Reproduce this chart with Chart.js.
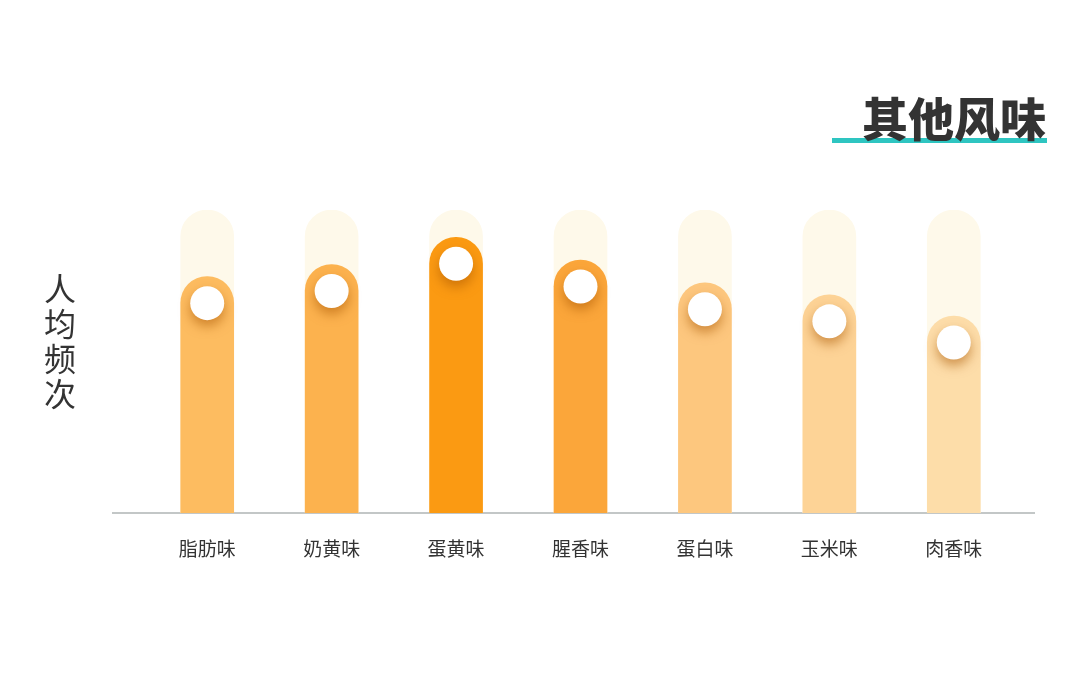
<!DOCTYPE html>
<html>
<head>
<meta charset="utf-8">
<script src="https://cdn.jsdelivr.net/npm/chart.js@4/dist/chart.umd.min.js"></script>
<style>
    html, body { margin: 0; padding: 0; background: #fff; }
    #wrap { position: relative; width: 1080px; height: 686px; overflow: hidden; }
    #chart { position: absolute; left: 0; top: 0; }
    .title {
        position: absolute; right: 34px; top: 88px;
        font-family: "Noto Sans CJK SC", sans-serif; font-weight: 900;
        font-size: 46px; line-height: 56px; color: #333; letter-spacing: 0px;
        z-index: 2;
    }
    .title-line {
        position: absolute; left: 832px; top: 138px; width: 215px; height: 5px;
        background: #2ec5c1; z-index: 1;
    }
    .ylabel {
        position: absolute; left: 43px; top: 270px; width: 34px;
        font-family: "Noto Sans CJK SC", sans-serif; font-size: 32px;
        line-height: 35px; color: #333; text-align: center;
    }
</style>
</head>
<body>
<div id="wrap">
    <canvas id="chart" width="1080" height="686"></canvas>
    <div class="title-line"></div>
    <div class="title">其他风味</div>
    <div class="ylabel">人<br>均<br>频<br>次</div>
</div>
<script>
// 数据
const categories = ['脂肪味', '奶黄味', '蛋黄味', '腥香味', '蛋白味', '玉米味', '肉香味'];
const frequency = [7.8, 8.2, 9.1, 8.35, 7.6, 7.2, 6.5];
const maxValue = [10, 10, 10, 10, 10, 10, 10];
const barColors = ['#fdbc60', '#fcb24e', '#fb9a12', '#fba63a', '#fdc77e', '#fdd396', '#fddda9'];

// 圆点 + 底线
const decoPlugin = {
    id: 'deco',
    beforeDatasetsDraw(chart) {
        const { ctx, chartArea } = chart;
        ctx.save();
        ctx.strokeStyle = '#c3c7c7';
        ctx.lineWidth = 2;
        ctx.beginPath();
        ctx.moveTo(chartArea.left - 33, chartArea.bottom);
        ctx.lineTo(chartArea.right + 19, chartArea.bottom);
        ctx.stroke();
        ctx.restore();
    },
    afterDatasetsDraw(chart) {
        const { ctx } = chart;
        const meta = chart.getDatasetMeta(0);
        meta.data.forEach(bar => {
            const cy = bar.y + bar.width / 2;
            ctx.save();
            ctx.shadowColor = 'rgba(170, 85, 0, 0.55)';
            ctx.shadowBlur = 12;
            ctx.shadowOffsetY = 6;
            ctx.fillStyle = '#ffffff';
            ctx.beginPath();
            ctx.arc(bar.x, cy, 17, 0, Math.PI * 2);
            ctx.fill();
            ctx.restore();
        });
    }
};

new Chart(document.getElementById('chart'), {
    type: 'bar',
    data: {
        labels: categories,
        datasets: [{
            data: frequency,
            backgroundColor: barColors,
            barThickness: 53,
            grouped: false,
            borderRadius: { topLeft: 26.5, topRight: 26.5 },
            borderSkipped: 'bottom'
        }, {
            data: maxValue,
            backgroundColor: '#fef9ea',
            barThickness: 53,
            grouped: false,
            borderRadius: { topLeft: 26.5, topRight: 26.5 },
            borderSkipped: 'bottom'
        }]
    },
    options: {
        responsive: false,
        animation: false,
        layout: { padding: { left: 145, right: 64, top: 210, bottom: 0 } },
        plugins: {
            legend: { display: false },
            tooltip: { enabled: false }
        },
        scales: {
            x: {
                grid: { display: false, drawTicks: false },
                border: { display: false },
                ticks: {
                    padding: 24,
                    color: '#333',
                    font: { family: '"Noto Sans CJK SC", sans-serif', size: 19 }
                },
                afterFit(scale) { scale.height = 173; }
            },
            y: {
                display: false,
                min: 0,
                max: 10
            }
        }
    },
    plugins: [decoPlugin]
});
</script>
</body>
</html>
